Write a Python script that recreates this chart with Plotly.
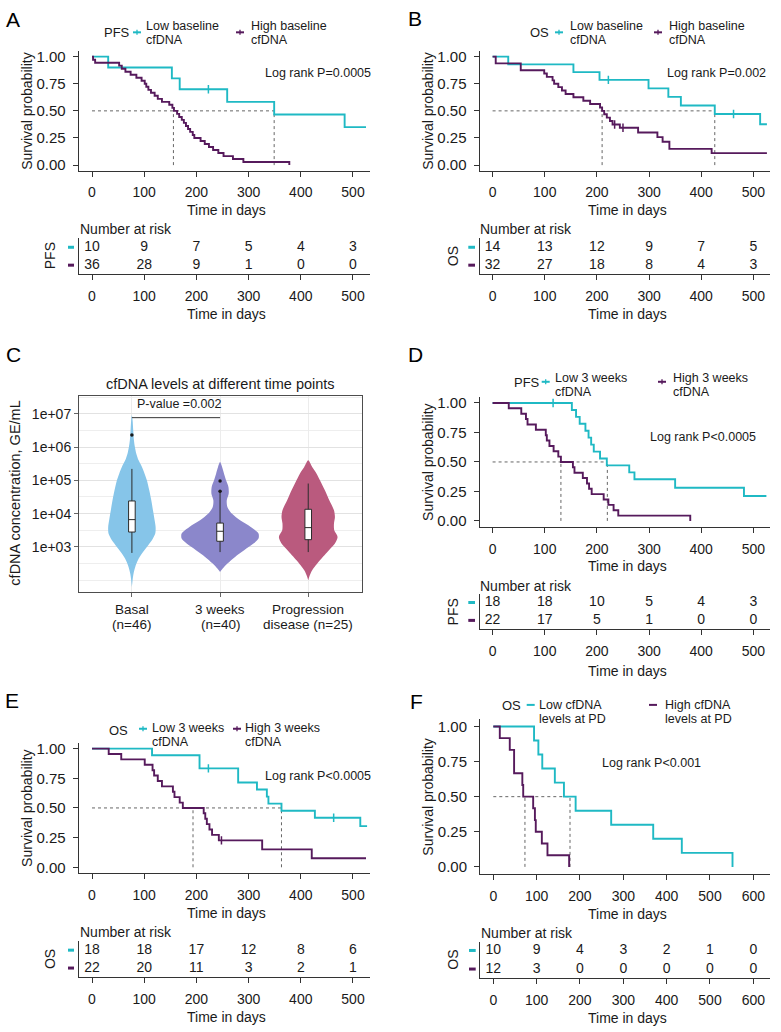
import plotly.graph_objects as go

W, H = 781, 1032
CYAN = "#1FB9C4"
PURPLE = "#561A5C"
DOT = "#666666"
AX = "#333333"
FONT = "Liberation Sans, Arial, Helvetica, sans-serif"

# ---------------- DATA ----------------
# Panel A: PFS by baseline cfDNA
a_low_t = [0, 31, 153, 168, 259, 349, 484, 525]
a_low_s = [1.0, 0.9, 0.8, 0.7, 0.583, 0.467, 0.35, 0.35]
a_low_cens_t = [223]
a_low_cens_s = [0.7]
a_high_t = [0, 2, 6, 52, 57, 64, 74, 85, 95, 101, 104, 108, 113, 120, 126, 134, 148, 154, 157,
            163, 167, 172, 176, 180, 184, 188, 193, 196, 208, 216, 224, 232, 242, 252, 270, 290, 378]
a_high_s = [1.0, 0.972, 0.944, 0.917, 0.889, 0.861, 0.833, 0.806, 0.778, 0.750, 0.722, 0.694, 0.667,
            0.639, 0.611, 0.583, 0.556, 0.528, 0.500, 0.472, 0.444, 0.417, 0.389, 0.361, 0.333, 0.306,
            0.278, 0.250, 0.222, 0.194, 0.167, 0.139, 0.111, 0.083, 0.056, 0.028, 0.0]
a_medians = [156, 349]
a_risk_low = [10, 9, 7, 5, 4, 3]
a_risk_high = [36, 28, 9, 1, 0, 0]

# Panel B: OS by baseline cfDNA
b_low_t = [0, 30, 155, 205, 299, 337, 361, 426, 513, 526]
b_low_s = [1.0, 0.929, 0.857, 0.786, 0.707, 0.629, 0.55, 0.471, 0.377, 0.377]
b_low_cens_t = [222, 462]
b_low_cens_s = [0.786, 0.471]
b_high_t = [0, 6, 54, 99, 104, 115, 118, 126, 133, 140, 155, 174, 187, 206, 210, 214, 219, 225, 230,
            244, 279, 316, 326, 339, 420, 526]
b_high_s = [1.0, 0.938, 0.875, 0.844, 0.813, 0.781, 0.75, 0.719, 0.688, 0.656, 0.625, 0.594, 0.563,
            0.531, 0.5, 0.469, 0.438, 0.406, 0.375, 0.344, 0.301, 0.258, 0.215, 0.15, 0.11, 0.11]
b_high_cens_t = [234, 250]
b_high_cens_s = [0.375, 0.344]
b_medians = [210, 426]
b_risk_low = [14, 13, 12, 9, 7, 5]
b_risk_high = [32, 27, 18, 8, 4, 3]

# Panel C: cfDNA levels (violin density outlines)
c_groups = ["Basal", "3 weeks", "Progression"]
c_label_line1 = ["Basal", "3 weeks", "Progression"]
c_label_line2 = ["(n=46)", "(n=40)", "disease (n=25)"]
c_colors = ["#86C5E9", "#8B87CB", "#BA5A7E"]
basal_log = [6.95, 6.8, 6.5, 6.2, 6.0, 5.8, 5.6, 5.4, 5.2, 5.0, 4.7, 4.4, 4.1, 3.8, 3.6, 3.4, 3.2,
             3.0, 2.8, 2.6, 2.4, 2.2, 2.0, 1.8]
basal_w = [0.0, 0.008, 0.015, 0.023, 0.034, 0.05, 0.076, 0.114, 0.144, 0.17, 0.197, 0.22, 0.239,
           0.258, 0.269, 0.265, 0.227, 0.17, 0.114, 0.068, 0.038, 0.019, 0.008, 0.0]
wk3_log = [5.55, 5.4, 5.2, 5.0, 4.8, 4.6, 4.4, 4.2, 4.0, 3.8, 3.6, 3.4, 3.25, 3.1, 2.9, 2.7, 2.5,
           2.35, 2.25]
wk3_w = [0.0, 0.023, 0.045, 0.068, 0.095, 0.098, 0.076, 0.083, 0.133, 0.227, 0.348, 0.436, 0.436,
         0.379, 0.273, 0.17, 0.083, 0.03, 0.0]
prog_log = [5.6, 5.4, 5.2, 5.0, 4.7, 4.4, 4.1, 3.9, 3.7, 3.5, 3.3, 3.1, 2.9, 2.6, 2.3, 2.1, 2.0]
prog_w = [0.0, 0.045, 0.095, 0.133, 0.189, 0.239, 0.292, 0.303, 0.292, 0.295, 0.333, 0.303, 0.235,
          0.133, 0.045, 0.011, 0.0]
c_q1 = [2800, 1480, 1650]
c_median = [6600, 2950, 3800]
c_q3 = [24000, 5200, 13500]
c_lower = [660, 700, 700]
c_upper = [220000, 45000, 80000]
c_out_group = [1, 2, 2]
c_out_val = [2300000, 47000, 95000]
c_pvalue_y = 7.6e6
c_ticks = [1e3, 1e4, 1e5, 1e6, 1e7]
c_ticktext = ["1e+03", "1e+04", "1e+05", "1e+06", "1e+07"]

# Panel D: PFS by 3-week cfDNA
d_low_t = [0, 152, 160, 167, 178, 184, 189, 194, 206, 219, 262, 272, 350, 482, 525]
d_low_s = [1.0, 0.941, 0.882, 0.824, 0.765, 0.706, 0.647, 0.588, 0.529, 0.471, 0.412, 0.353, 0.282,
           0.212, 0.212]
d_low_cens_t = [116]
d_low_cens_s = [1.0]
d_high_t = [0, 31, 55, 64, 67, 83, 102, 104, 109, 117, 126, 131, 154, 157, 173, 181, 185, 190, 213,
            222, 232, 241, 379]
d_high_s = [1.0, 0.955, 0.909, 0.864, 0.818, 0.773, 0.727, 0.682, 0.636, 0.591, 0.545, 0.5, 0.455,
            0.409, 0.364, 0.318, 0.273, 0.227, 0.182, 0.136, 0.091, 0.045, 0.0]
d_medians = [131, 220]
d_risk_low = [18, 18, 10, 5, 4, 3]
d_risk_high = [22, 17, 5, 1, 0, 0]

# Panel E: OS by 3-week cfDNA
e_low_t = [0, 115, 206, 280, 316, 335, 338, 363, 427, 514, 527]
e_low_s = [1.0, 0.944, 0.833, 0.714, 0.655, 0.595, 0.536, 0.476, 0.417, 0.347, 0.347]
e_low_cens_t = [223, 463]
e_low_cens_s = [0.833, 0.417]
e_high_t = [0, 32, 56, 101, 116, 119, 126, 134, 155, 158, 168, 174, 214, 217, 220, 225, 230, 243,
            326, 421, 525]
e_high_s = [1.0, 0.955, 0.909, 0.864, 0.818, 0.773, 0.727, 0.682, 0.636, 0.591, 0.545, 0.5, 0.455,
            0.409, 0.364, 0.318, 0.273, 0.227, 0.151, 0.076, 0.076]
e_high_cens_t = [248]
e_high_cens_s = [0.227]
e_medians = [193.5, 363]
e_risk_low = [18, 18, 17, 12, 8, 6]
e_risk_high = [22, 20, 11, 3, 2, 1]

# Panel F: OS by cfDNA at progression
f_low_t = [0, 94, 104, 113, 142, 163, 190, 272, 369, 435, 552]
f_low_s = [1.0, 0.9, 0.8, 0.7, 0.6, 0.5, 0.4, 0.3, 0.2, 0.1, 0.0]
f_high_t = [0, 15, 38, 48, 67, 69, 92, 96, 98, 112, 125, 175]
f_high_s = [1.0, 0.917, 0.833, 0.667, 0.583, 0.5, 0.417, 0.333, 0.25, 0.167, 0.083, 0.0]
f_medians = [73, 177]
f_risk_low = [10, 9, 4, 3, 2, 1, 0]
f_risk_high = [12, 3, 0, 0, 0, 0, 0]

risk_t5 = [0, 100, 200, 300, 400, 500]
risk_t6 = [0, 100, 200, 300, 400, 500, 600]

# ---------------- LAYOUT HELPERS ----------------
def xd(a, b):
    return [a / W, b / W]


def yd(top, bottom):
    return [1 - bottom / H, 1 - top / H]


def px(x):
    return x / W


def py(y):
    return 1 - y / H


fig = go.Figure()
layout = dict(width=W, height=H, autosize=False, margin=dict(l=0, r=0, t=0, b=0),
              paper_bgcolor="white", plot_bgcolor="white", showlegend=False,
              font=dict(family=FONT, color="#1a1a1a"))
annotations = []
shapes = []


def ann(text, x, y, size=14, xanchor="center", yanchor="middle", angle=0, color="#1a1a1a"):
    annotations.append(dict(text=text, x=px(x), y=py(y), xref="paper", yref="paper",
                            showarrow=False, xanchor=xanchor, yanchor=yanchor,
                            textangle=angle, font=dict(size=size, color=color, family=FONT)))


def km_axes(i, xdom, ydom, xrange, tickvals):
    layout[f"xaxis{i}"] = dict(domain=xdom, range=xrange, anchor=f"y{i}", showline=True,
                               linecolor=AX, linewidth=1, ticks="outside", ticklen=5,
                               tickcolor=AX, tickvals=tickvals, showgrid=False, zeroline=False,
                               tickfont=dict(size=14, color="#1a1a1a"), ticklabelstandoff=4)
    layout[f"yaxis{i}"] = dict(domain=ydom, range=[-0.05, 1.05], anchor=f"x{i}", showline=True,
                               linecolor=AX, linewidth=1, ticks="outside", ticklen=5,
                               tickcolor=AX, tickvals=[0, 0.25, 0.5, 0.75, 1.0],
                               ticktext=["0.00", "0.25", "0.50", "0.75", "1.00"],
                               showgrid=False, zeroline=False,
                               tickfont=dict(size=15, color="#1a1a1a"), ticklabelstandoff=4)


def risk_axes(i, xdom, ydom, xrange, tickvals):
    layout[f"xaxis{i}"] = dict(domain=xdom, range=xrange, anchor=f"y{i}", showline=True,
                               linecolor=AX, linewidth=1, ticks="outside", ticklen=5,
                               tickcolor=AX, tickvals=tickvals, showgrid=False, zeroline=False,
                               tickfont=dict(size=14, color="#1a1a1a"), ticklabelstandoff=4)
    layout[f"yaxis{i}"] = dict(domain=ydom, range=[0.5, 2.5], anchor=f"x{i}", showline=True,
                               linecolor=AX, linewidth=1, ticks="", showticklabels=False,
                               showgrid=False, zeroline=False)


def km_traces(i, lt, ls, ht, hs, meds, lct=None, lcs=None, hct=None, hcs=None):
    xa, ya = f"x{i}", f"y{i}"
    fig.add_trace(go.Scatter(x=[0, max(meds)], y=[0.5, 0.5], mode="lines", xaxis=xa, yaxis=ya,
                             line=dict(color=DOT, width=1, dash="dot"), hoverinfo="skip"))
    for m in meds:
        fig.add_trace(go.Scatter(x=[m, m], y=[0, 0.5], mode="lines", xaxis=xa, yaxis=ya,
                                 line=dict(color=DOT, width=1, dash="dot"), hoverinfo="skip"))
    fig.add_trace(go.Scatter(x=lt, y=ls, mode="lines", line_shape="hv", xaxis=xa, yaxis=ya,
                             line=dict(color=CYAN, width=1.9), name="Low"))
    fig.add_trace(go.Scatter(x=ht, y=hs, mode="lines", line_shape="hv", xaxis=xa, yaxis=ya,
                             line=dict(color=PURPLE, width=1.9), name="High"))
    for ct, cs, col in ((lct, lcs, CYAN), (hct, hcs, PURPLE)):
        if ct:
            fig.add_trace(go.Scatter(x=ct, y=cs, mode="markers", xaxis=xa, yaxis=ya,
                                     marker=dict(symbol="line-ns", size=6,
                                                 line=dict(color=col, width=1.5)),
                                     hoverinfo="skip"))


def risk_traces(i, times, low, high):
    xa, ya = f"x{i}", f"y{i}"
    fig.add_trace(go.Scatter(x=times, y=[2] * len(times), text=[str(v) for v in low],
                             mode="text", xaxis=xa, yaxis=ya,
                             textfont=dict(size=14, color="#1a1a1a", family=FONT)))
    fig.add_trace(go.Scatter(x=times, y=[1] * len(times), text=[str(v) for v in high],
                             mode="text", xaxis=xa, yaxis=ya,
                             textfont=dict(size=14, color="#1a1a1a", family=FONT)))


def glyph(x0, x1, y, color, tick=True):
    shapes.append(dict(type="line", xref="paper", yref="paper", x0=px(x0), x1=px(x1),
                       y0=py(y), y1=py(y), line=dict(color=color, width=2)))
    if tick:
        xm = (x0 + x1) / 2
        shapes.append(dict(type="line", xref="paper", yref="paper", x0=px(xm), x1=px(xm),
                           y0=py(y - 2.5), y1=py(y + 2.5), line=dict(color=color, width=1.3)))


def risk_deco(label, lx, dash_x0, dash_x1, row_low, row_high):
    ann(label, lx, (row_low + row_high) / 2, size=14, angle=-90)
    for yy, col in ((row_low, CYAN), (row_high, PURPLE)):
        shapes.append(dict(type="line", xref="paper", yref="paper", x0=px(dash_x0), x1=px(dash_x1),
                           y0=py(yy), y1=py(yy), line=dict(color=col, width=3)))


XR_AE = [-25.5, 532.6]
XR_BD = [-25.1, 531.9]
XR_F = [-30.7, 638.5]

# ---------------- PANEL A ----------------
km_axes(1, xd(78.7, 370), yd(48.5, 168.5), XR_AE, risk_t5)
km_traces(1, a_low_t, a_low_s, a_high_t, a_high_s, a_medians, a_low_cens_t, a_low_cens_s)
risk_axes(2, xd(78.7, 370), yd(236.7, 272.7), XR_AE, risk_t5)
risk_traces(2, risk_t5, a_risk_low, a_risk_high)

# ---------------- PANEL B ----------------
km_axes(3, xd(479.5, 770), yd(48.5, 168.5), XR_BD, risk_t5)
km_traces(3, b_low_t, b_low_s, b_high_t, b_high_s, b_medians, b_low_cens_t, b_low_cens_s,
          b_high_cens_t, b_high_cens_s)
risk_axes(4, xd(479.5, 770), yd(236.7, 272.7), XR_BD, risk_t5)
risk_traces(4, risk_t5, b_risk_low, b_risk_high)

# ---------------- PANEL D ----------------
km_axes(6, xd(479.5, 770), yd(396.4, 526.9), XR_BD, risk_t5)
km_traces(6, d_low_t, d_low_s, d_high_t, d_high_s, d_medians, d_low_cens_t, d_low_cens_s)
risk_axes(7, xd(479.5, 770), yd(594, 630), XR_BD, risk_t5)
risk_traces(7, risk_t5, d_risk_low, d_risk_high)

# ---------------- PANEL E ----------------
km_axes(8, xd(78.7, 370), yd(744, 875.3), XR_AE, risk_t5)
km_traces(8, e_low_t, e_low_s, e_high_t, e_high_s, e_medians, e_low_cens_t, e_low_cens_s,
          e_high_cens_t, e_high_cens_s)
risk_axes(9, xd(78.7, 370), yd(943.7, 979.7), XR_AE, risk_t5)
risk_traces(9, risk_t5, e_risk_low, e_risk_high)

# ---------------- PANEL F ----------------
km_axes(10, xd(480, 770), yd(720.6, 876), XR_F, risk_t6)
km_traces(10, f_low_t, f_low_s, f_high_t, f_high_s, f_medians)
risk_axes(11, xd(480, 770), yd(944, 981), XR_F, risk_t6)
risk_traces(11, risk_t6, f_risk_low, f_risk_high)

# ---------------- PANEL C (violins) ----------------
C_XR = [0.4, 3.61]
C_YR = [1.66, 7.54]
c_shapes = [(basal_log, basal_w), (wk3_log, wk3_w), (prog_log, prog_w)]
for gi, (lg, wd) in enumerate(c_shapes):
    cx = gi + 1
    xs = [cx + w for w in wd] + [cx - w for w in reversed(wd)]
    ys = [10 ** v for v in lg] + [10 ** v for v in reversed(lg)]
    fig.add_trace(go.Scatter(x=xs, y=ys, mode="lines", fill="toself", fillcolor=c_colors[gi],
                             line=dict(width=0, color=c_colors[gi], shape="spline", smoothing=0.8),
                             xaxis="x5", yaxis="y5", hoverinfo="skip"))
# boxes, outliers and bracket on an overlay so they are drawn above the violins
for gi in range(3):
    fig.add_trace(go.Box(x=[gi + 1], q1=[c_q1[gi]], median=[c_median[gi]], q3=[c_q3[gi]],
                         lowerfence=[c_lower[gi]], upperfence=[c_upper[gi]], width=0.075,
                         orientation="v", fillcolor="white", line=dict(color="#2b2b2b", width=1),
                         whiskerwidth=0, xaxis="x12", yaxis="y12", boxpoints=False))
fig.add_trace(go.Scatter(x=c_out_group, y=c_out_val, mode="markers", xaxis="x12", yaxis="y12",
                         marker=dict(color="#1a1a1a", size=3.5)))
fig.add_trace(go.Scatter(x=[1, 2], y=[c_pvalue_y, c_pvalue_y], mode="lines", xaxis="x12",
                         yaxis="y12", line=dict(color="#333333", width=1)))
annotations.append(dict(text="P-value =0.002", x=1.53, y=7.02, xref="x5", yref="y5",
                        showarrow=False, yanchor="bottom", font=dict(size=12.5, family=FONT,
                                                                     color="#1a1a1a")))

layout["xaxis5"] = dict(domain=xd(79, 362), range=C_XR, anchor="y5", showline=True,
                        mirror=True, linecolor="#4d4d4d", linewidth=1, ticks="outside", ticklen=4,
                        tickcolor="#666", tickvals=[1, 2, 3], showticklabels=False,
                        showgrid=True, gridcolor="#ececec", gridwidth=1, zeroline=False)
layout["yaxis5"] = dict(domain=yd(395, 592), type="log", range=C_YR, anchor="x5",
                        showline=True, mirror=True, linecolor="#4d4d4d", linewidth=1,
                        ticks="outside", ticklen=4, tickcolor="#666", tickvals=c_ticks,
                        ticktext=c_ticktext, tickfont=dict(size=14, color="#1a1a1a"),
                        showgrid=True, gridcolor="#e2e2e2", gridwidth=1, zeroline=False,
                        minor=dict(tickvals=[100, 10 ** 2.5, 10 ** 3.5, 10 ** 4.5, 10 ** 5.5,
                                             10 ** 6.5, 10 ** 7.5],
                                   showgrid=True, gridcolor="#eeeeee", ticks=""))
layout["xaxis12"] = dict(overlaying="x5", range=C_XR, anchor="y12", visible=False,
                         showgrid=False, zeroline=False)
layout["yaxis12"] = dict(overlaying="y5", type="log", range=C_YR, anchor="x12", visible=False,
                         showgrid=False, zeroline=False)
for gi in range(3):
    annotations.append(dict(text=c_label_line1[gi], x=gi + 1, y=py(610), xref="x5", yref="paper",
                            showarrow=False, font=dict(size=13.5, family=FONT, color="#1a1a1a")))
    annotations.append(dict(text=c_label_line2[gi], x=gi + 1, y=py(625), xref="x5", yref="paper",
                            showarrow=False, font=dict(size=13.5, family=FONT, color="#1a1a1a")))
ann("cfDNA levels at different time points", 220.5, 383, size=14.5)
ann("cfDNA concentration, GE/mL", 15, 493.5, size=14.5, angle=-90)

# ---------------- TEXT / LEGENDS ----------------
for lab, x, y in (("A", 12.5, 17), ("B", 415, 16), ("C", 13, 354), ("D", 415, 354),
                  ("E", 12, 702), ("F", 416, 703)):
    ann(lab, x, y, size=21, color="#000")

ann("Survival probability", 27, 108.5, angle=-90, size=14)
ann("Survival probability", 428, 108.5, angle=-90, size=14)
ann("Survival probability", 428, 461.6, angle=-90, size=14)
ann("Survival probability", 27, 809.6, angle=-90, size=14)
ann("Survival probability", 428, 798.3, angle=-90, size=14)
for xc, ys in ((226, (208, 313)), (627, (208, 313)), (627, (566, 672)), (226, (915, 1020)),
               (627, (916, 1021))):
    for yy in ys:
        ann("Time in days", xc, yy, size=14)
for x, y in ((78, 227), (478, 227), (478, 586), (78, 934), (479, 935)):
    ann("Number at risk", x, y, size=14, xanchor="left")

risk_deco("PFS", 50, 68, 74, 245.7, 263.7)
risk_deco("OS", 453, 468.3, 475, 245.7, 263.7)
risk_deco("PFS", 453, 468.3, 475, 603, 621)
risk_deco("OS", 50, 68, 74, 952.7, 970.7)
risk_deco("OS", 453, 469, 475.7, 953, 971.7)


def legend(title, tx, ty, g1x, t1x, g2x, t2x, lines1, lines2, ytop, ybot, gy, tick=True):
    ann(title, tx, ty, size=13)
    glyph(g1x, g1x + 8, gy, CYAN, tick)
    glyph(g2x, g2x + 8, gy, PURPLE, tick)
    ann(lines1[0], t1x, ytop, size=12.5, xanchor="left")
    ann(lines1[1], t1x, ybot, size=12.5, xanchor="left")
    ann(lines2[0], t2x, ytop, size=12.5, xanchor="left")
    ann(lines2[1], t2x, ybot, size=12.5, xanchor="left")


legend("PFS", 116.7, 30, 133, 144, 236, 249, ("Low baseline", "cfDNA"),
       ("High baseline", "cfDNA"), 23, 37, 29.5)
legend("OS", 539, 30, 555, 567.7, 654, 666.7, ("Low baseline", "cfDNA"),
       ("High baseline", "cfDNA"), 23, 37, 29.5)
legend("PFS", 526.7, 382, 541.7, 553.3, 658, 671, ("Low 3 weeks", "cfDNA"),
       ("High 3 weeks", "cfDNA"), 377, 391, 381)
legend("OS", 118.3, 732, 139, 150, 233, 242.7, ("Low 3 weeks", "cfDNA"),
       ("High 3 weeks", "cfDNA"), 729.5, 743.5, 730)
legend("OS", 511.7, 707, 526.7, 537.3, 649, 663.3, ("Low cfDNA", "levels at PD"),
       ("High cfDNA", "levels at PD"), 706, 720, 706, tick=False)

ann("Log rank P=0.0005", 372.5, 70.7, size=12.5, xanchor="right")
ann("Log rank P=0.002", 767.5, 70.7, size=12.5, xanchor="right")
ann("Log rank P<0.0005", 758.3, 436.7, size=12.5, xanchor="right")
ann("Log rank P<0.0005", 373.3, 777.3, size=12.5, xanchor="right")
ann("Log rank P<0.001", 703.3, 764.3, size=12.5, xanchor="right")

layout["annotations"] = annotations
layout["shapes"] = shapes
fig.update_layout(**layout)
fig.write_html("out.html", config={"displayModeBar": False},
               post_script="document.body.style.margin='0';")
